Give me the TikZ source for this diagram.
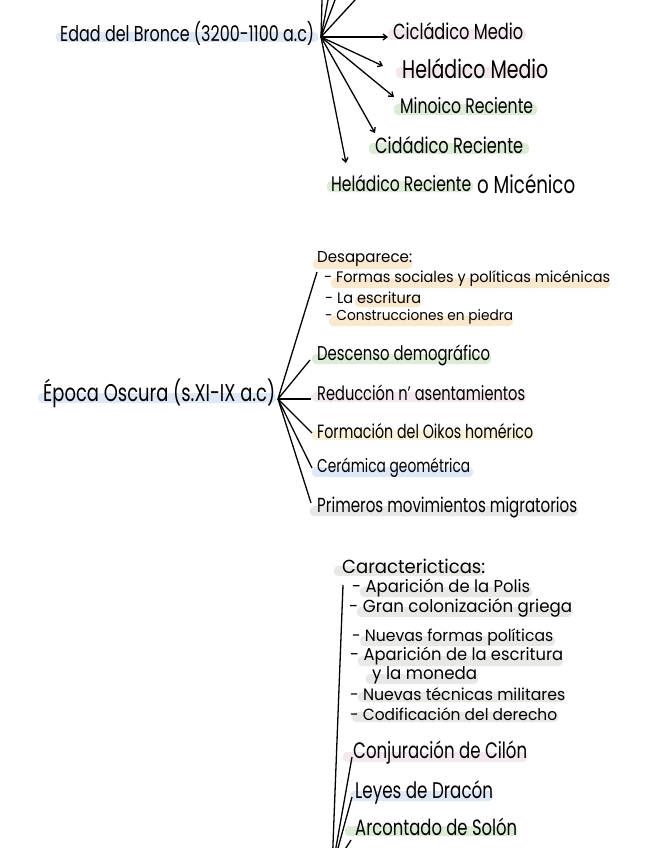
\documentclass[tikz,border=0pt]{standalone}
\usepackage{fontspec}
\setmainfont{Poppins}
\usetikzlibrary{arrows.meta}
\definecolor{hlblue}{HTML}{DFE8F7}
\definecolor{hlpink}{HTML}{F5E7EE}
\definecolor{hlgreen}{HTML}{DDECD6}
\definecolor{hlpeach}{HTML}{FAE8CF}
\definecolor{hlyellow}{HTML}{FAF1D9}
\definecolor{hlgray}{HTML}{E8E8E6}
\tikzset{
  lbl/.style={inner sep=0pt, anchor=west, text=black},
  conn/.style={line width=1.3pt, draw=black},
  arr/.style={conn, -{Straight Barb[length=4pt,width=6pt]}},
  hl/.style={rounded corners=4pt}
}
\newcommand\fitw[3][1.35]{\scalebox{1}[#1]{\resizebox{#2pt}{!}{#3}}}
\begin{document}
\begin{tikzpicture}[x=1pt,y=-1pt]
\useasboundingbox (0,0) rectangle (646,848);
\fill[white] (0,0) rectangle (646,848);
% ---------- highlights ----------
\fill[hlblue,hl] (56,32) rectangle (318,42);
\fill[hlpink,hl] (388,29) rectangle (526,40);
\fill[hlpink,hl] (396,67) rectangle (546,78);
\fill[hlgreen,hl] (394,104) rectangle (537,115);
\fill[hlgreen,hl] (369,143) rectangle (529,154);
\fill[hlgreen,hl] (327,181) rectangle (473,192);
\fill[hlblue,hl] (38,393) rectangle (276,403);
\fill[hlpeach,hl] (313,259) rectangle (412,269);
\fill[hlpeach,hl] (331,278) rectangle (610,288);
\fill[hlpeach,hl] (355,297) rectangle (421,307);
\fill[hlpeach,hl] (329,316) rectangle (513,326);
\fill[hlgreen,hl] (312,354) rectangle (491,364);
\fill[hlpink,hl] (312,392) rectangle (526,402);
\fill[hlyellow,hl] (312,430) rectangle (534,440);
\fill[hlblue,hl] (312,467) rectangle (473,477);
\fill[hlgray,hl] (310,506) rectangle (578,516);
\fill[hlgray,hl] (334,566) rectangle (485,576);
\fill[hlgray,hl] (360,587) rectangle (532,597);
\fill[hlgray,hl] (357,607) rectangle (572,617);
\fill[hlgray,hl] (360,636) rectangle (555,646);
\fill[hlgray,hl] (358,656) rectangle (563,666);
\fill[hlgray,hl] (366,674) rectangle (478,684);
\fill[hlgray,hl] (358,692) rectangle (565,702);
\fill[hlgray,hl] (352,712) rectangle (558,722);
\fill[hlpink,hl] (343,752) rectangle (527,762);
\fill[hlblue,hl] (350,791) rectangle (493,801);
\fill[hlgreen,hl] (345,826) rectangle (517,836);
% ---------- section 1 ----------
\node[lbl] (eb) at (60,33) {\fitw{254}{Edad del Bronce (3200-1100 a.c)}};
\node[lbl] (cm) at (393,31) {\fitw{130}{Cicládico Medio}};
\node[lbl] (hm) at (402,69) {\fitw{146}{Heládico Medio}};
\node[lbl] (mr) at (400,106) {\fitw{133}{Minoico Reciente}};
\node[lbl] (cr) at (375,145) {\fitw{148}{Cidádico Reciente}};
\node[lbl] (hr) at (331,183) {\fitw{140}{Heládico Reciente}};
\node[lbl] (mi) at (477,184) {\fitw{98}{o Micénico}};
\coordinate (hub1) at (321,37);
\coordinate (tcm) at (388,37);
\coordinate (thm) at (383,66);
\coordinate (tmr) at (394,97);
\coordinate (tcr) at (375,133);
\coordinate (thr) at (346,163);
\begin{scope}
\clip (0,0) rectangle (646,848);
\coordinate (u1) at (322.3,-10);
\coordinate (u2) at (329.9,-10);
\coordinate (u3) at (338.8,-10);
\coordinate (u4) at (364.2,-10);
\draw[conn] (hub1) -- (u1);
\draw[conn] (hub1) -- (u2);
\draw[conn] (hub1) -- (u3);
\draw[conn] (hub1) -- (u4);
\end{scope}
\draw[arr] (hub1) -- (tcm);
\draw[arr] (hub1) -- (thm);
\draw[arr] (hub1) -- (tmr);
\draw[arr] (hub1) -- (tcr);
\draw[arr] (hub1) -- (thr);
% ---------- section 2 ----------
\node[lbl] (eo) at (43,393) {\fitw{232}{Época Oscura (s.XI-IX a.c)}};
\node[lbl] (des) at (317,259) {\fitw[1.05]{95}{Desaparece:}};
\node[lbl] (f1) at (324,279) {\fitw[1.05]{286}{- Formas sociales y políticas micénicas}};
\node[lbl] (f2) at (325,298) {\fitw[1.05]{96}{- La escritura}};
\node[lbl] (f3) at (325,317) {\fitw[1.05]{188}{- Construcciones en piedra}};
\node[lbl] (ds) at (317,355) {\fitw{173}{Descenso demográfico}};
\node[lbl] (rd) at (317,393) {\fitw{208}{Reducción n' asentamientos}};
\node[lbl] (fo) at (317,431) {\fitw{216}{Formación del Oikos homérico}};
\node[lbl] (ce) at (317,468) {\fitw{153}{Cerámica geométrica}};
\node[lbl] (pm) at (317,507) {\fitw{260}{Primeros movimientos migratorios}};
\coordinate (hub2) at (278,399);
\coordinate (tdes) at (317,272);
\coordinate (tds) at (310,360);
\coordinate (trd) at (311,399);
\coordinate (tfo) at (312,433);
\coordinate (tce) at (312,468);
\coordinate (tpm) at (311,503);
\draw[conn] (hub2) -- (tdes);
\draw[conn] (hub2) -- (tds);
\draw[conn] (hub2) -- (trd);
\draw[conn] (hub2) -- (tfo);
\draw[conn] (hub2) -- (tce);
\draw[conn] (hub2) -- (tpm);
% ---------- section 3 ----------
\node[lbl] (ca) at (342,566) {\fitw[1.05]{143}{Caractericticas:}};
\node[lbl] (l1) at (352,588) {\fitw[1.05]{178}{- Aparición de la Polis}};
\node[lbl] (l2) at (349,608) {\fitw[1.05]{223}{- Gran colonización griega}};
\node[lbl] (l3) at (352,637) {\fitw[1.05]{201}{- Nuevas formas políticas}};
\node[lbl] (l4) at (350,656) {\fitw[1.05]{213}{- Aparición de la escritura}};
\node[lbl] (l5) at (372,675) {\fitw[1.05]{105}{y la moneda}};
\node[lbl] (l6) at (350,694) {\fitw[1.05]{215}{- Nuevas técnicas militares}};
\node[lbl] (l7) at (350,714) {\fitw[1.05]{207}{- Codificación del derecho}};
\node[lbl] (cj) at (353,753) {\fitw{174}{Conjuración de Cilón}};
\node[lbl] (ly) at (355,792) {\fitw{138}{Leyes de Dracón}};
\node[lbl] (ar) at (355,827) {\fitw{162}{Arcontado de Solón}};
\coordinate (tca) at (343,585);
\coordinate (tcj) at (352,757);
\coordinate (tly) at (352,797);
\coordinate (tar) at (351,840);
\begin{scope}
\clip (0,0) rectangle (646,848);
\coordinate (hub3) at (332,870);
\draw[conn] (hub3) -- (tca);
\draw[conn] (hub3) -- (tcj);
\draw[conn] (hub3) -- (tly);
\draw[conn] (hub3) -- (tar);
\end{scope}
\end{tikzpicture}
\end{document}
